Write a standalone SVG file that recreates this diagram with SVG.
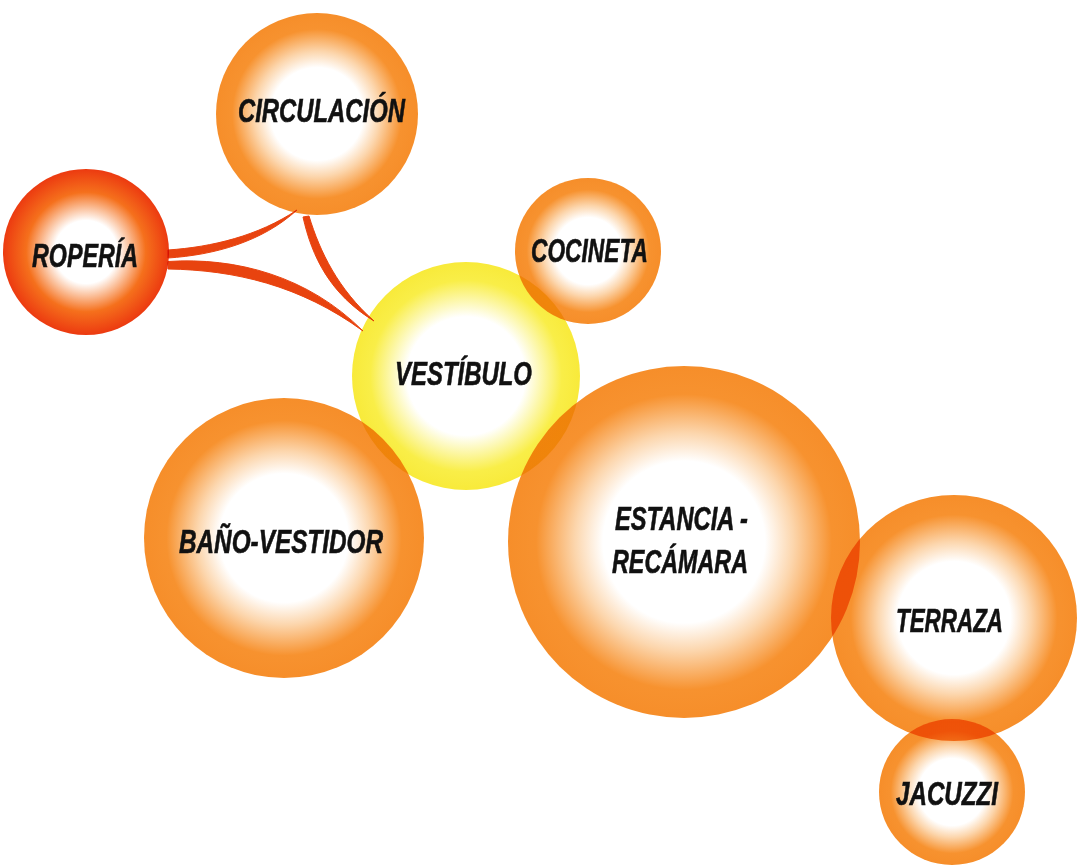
<svg xmlns="http://www.w3.org/2000/svg" width="1079" height="867" viewBox="0 0 1079 867">
  <defs>
    <radialGradient id="gOrange">
      <stop offset="0" stop-color="#ffffff"/>
      <stop offset="0.46" stop-color="#ffffff"/>
      <stop offset="0.62" stop-color="#fcd6ad"/>
      <stop offset="0.84" stop-color="#f7922f"/>
      <stop offset="1" stop-color="#f68e2a"/>
    </radialGradient>
    <radialGradient id="gRed">
      <stop offset="0" stop-color="#ffffff"/>
      <stop offset="0.38" stop-color="#ffffff"/>
      <stop offset="0.72" stop-color="#f5701c"/>
      <stop offset="1" stop-color="#ec3a10"/>
    </radialGradient>
    <radialGradient id="gYellow">
      <stop offset="0" stop-color="#ffffff"/>
      <stop offset="0.52" stop-color="#ffffff"/>
      <stop offset="0.84" stop-color="#f9ee48"/>
      <stop offset="1" stop-color="#f8ea3a"/>
    </radialGradient>
    <style>
      .bubble { mix-blend-mode: multiply; }
      .orange { fill: url(#gOrange); }
      .red { fill: url(#gRed); }
      .yellow { fill: url(#gYellow); }
      .label { font-family: "Liberation Sans", "DejaVu Sans", sans-serif; font-weight: bold; font-style: italic; font-size: 33px; fill: #111111; stroke: #111111; stroke-width: 0.6; }
      .link { fill: #e8430f; stroke: #e8430f; stroke-width: 1; stroke-linejoin: round; }
    </style>
  </defs>

  <rect width="1079" height="867" fill="#ffffff"/>

  <!-- links between rooms -->
  <g id="connectors">
    <path class="link" d="M168,250 C212,247 258,236 297,210 C262,242 214,255 168,258 Z"/>
    <path class="link" d="M168,261.5 C236,257 308,276 363,331 C300,285 234,270 168,269 Z"/>
    <path class="link" d="M309,216 C320,252 338,289 374,321 C330,294 312,257 303,217 Z"/>
  </g>

  <g id="circulacion">
    <circle class="bubble orange" cx="317" cy="114" r="101"/>
    <text class="label" x="238" y="122" textLength="167" lengthAdjust="spacingAndGlyphs">CIRCULACIÓN</text>
  </g>

  <g id="roperia">
    <circle class="bubble red" cx="86" cy="252" r="83"/>
    <text class="label" x="32" y="267" textLength="106" lengthAdjust="spacingAndGlyphs">ROPERÍA</text>
  </g>

  <g id="vestibulo">
    <circle class="bubble yellow" cx="466" cy="376" r="114"/>
    <text class="label" x="395" y="385" textLength="137" lengthAdjust="spacingAndGlyphs">VESTÍBULO</text>
  </g>

  <g id="cocineta">
    <circle class="bubble orange" cx="588" cy="251" r="73"/>
    <text class="label" x="531" y="262" textLength="117" lengthAdjust="spacingAndGlyphs">COCINETA</text>
  </g>

  <g id="bano-vestidor">
    <circle class="bubble orange" cx="284" cy="538" r="140"/>
    <text class="label" x="179" y="553" textLength="204" lengthAdjust="spacingAndGlyphs">BAÑO-VESTIDOR</text>
  </g>

  <g id="estancia-recamara">
    <circle class="bubble orange" cx="684" cy="542" r="176"/>
    <text class="label" x="615" y="530" textLength="133" lengthAdjust="spacingAndGlyphs">ESTANCIA -</text>
    <text class="label" x="612" y="573" textLength="136" lengthAdjust="spacingAndGlyphs">RECÁMARA</text>
  </g>

  <g id="terraza">
    <circle class="bubble orange" cx="954" cy="618" r="123"/>
    <text class="label" x="896" y="632" textLength="107" lengthAdjust="spacingAndGlyphs">TERRAZA</text>
  </g>

  <g id="jacuzzi">
    <circle class="bubble orange" cx="952" cy="792" r="73"/>
    <text class="label" x="896" y="805" textLength="102" lengthAdjust="spacingAndGlyphs">JACUZZI</text>
  </g>
</svg>
